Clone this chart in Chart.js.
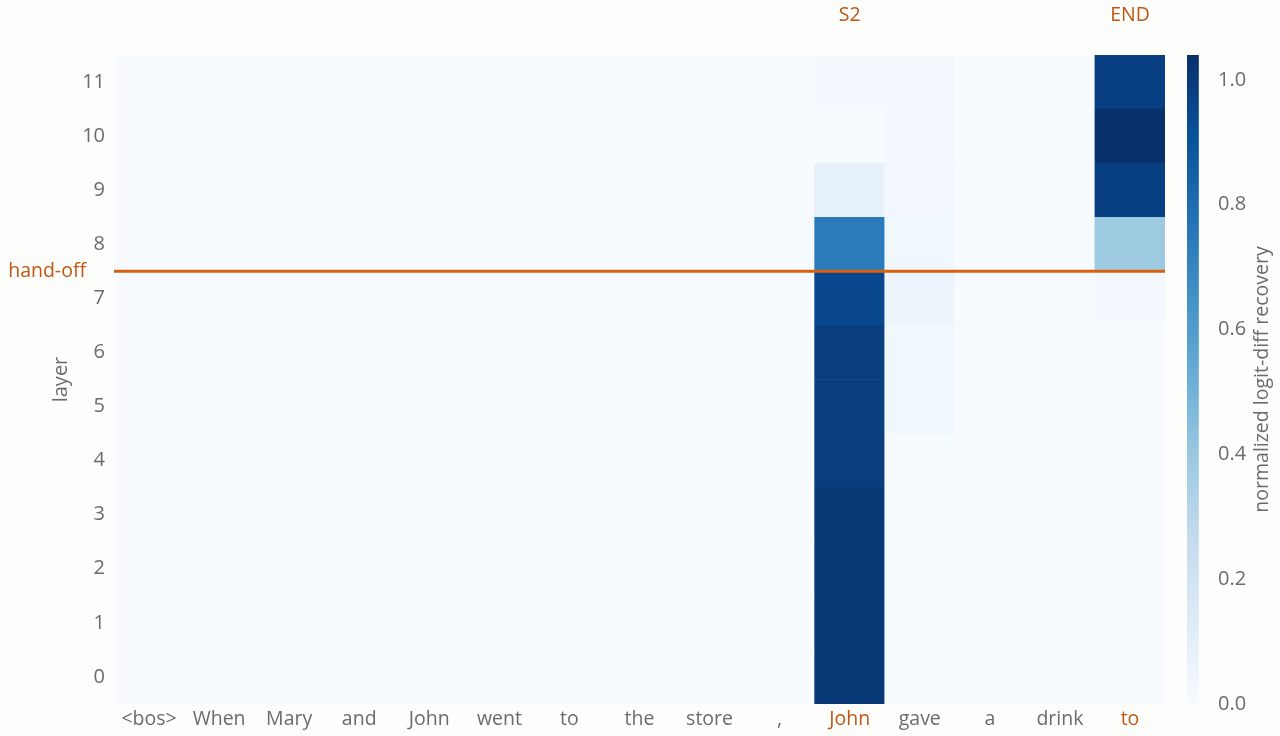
<!DOCTYPE html>
<html>
<head>
<meta charset="utf-8">
<script src="https://cdn.jsdelivr.net/npm/chart.js@4.4.1/dist/chart.umd.min.js"></script>
<style>
  html, body { margin: 0; padding: 0; background: #fdfdfb; }
  #wrap { position: relative; width: 1280px; height: 736px; }
  #heat { position: absolute; left: 0; top: 0; }
  #cbar { position: absolute; left: 1165px; top: 0; }
</style>
</head>
<body>
<div id="wrap">
  <canvas id="heat" width="1280" height="736"></canvas>
  <canvas id="cbar" width="115" height="736"></canvas>
</div>
<script>
// tokens of the prompt (x axis) and layers (y axis)
const tokens = ["<bos>", "When", "Mary", "and", "John", "went", "to", "the", "store", ",", "John", "gave", "a", "drink", "to"];
const topMarks = ["", "", "", "", "", "", "", "", "", "", "S2", "", "", "", "END"];
const highlighted = [10, 14]; // S2 and END positions
const layers = [0, 1, 2, 3, 4, 5, 6, 7, 8, 9, 10, 11];
const handoffLayer = 7.5;
const cbTicks = [0, 0.2, 0.4, 0.6, 0.8, 1.0];

// normalized logit-diff recovery, one row per layer (0..11), one value per token
const recovery = [
  [0, 0, 0, 0, 0, 0, 0, 0, 0, 0, 1.01, 0,     0, 0, 0],
  [0, 0, 0, 0, 0, 0, 0, 0, 0, 0, 1.01, 0,     0, 0, 0],
  [0, 0, 0, 0, 0, 0, 0, 0, 0, 0, 1.01, 0,     0, 0, 0],
  [0, 0, 0, 0, 0, 0, 0, 0, 0, 0, 1.01, 0,     0, 0, 0],
  [0, 0, 0, 0, 0, 0, 0, 0, 0, 0, 0.99, 0.01,  0, 0, 0],
  [0, 0, 0, 0, 0, 0, 0, 0, 0, 0, 0.99, 0.035, 0, 0, 0],
  [0, 0, 0, 0, 0, 0, 0, 0, 0, 0, 0.99, 0.035, 0, 0, 0],
  [0, 0, 0, 0, 0, 0, 0, 0, 0, 0, 0.95, 0.05,  0, 0, 0.02],
  [0, 0, 0, 0, 0, 0, 0, 0, 0, 0, 0.74, 0.035, 0, 0, 0.39],
  [0, 0, 0, 0, 0, 0, 0, 0, 0, 0, 0.09, 0.03,  0, 0, 0.98],
  [0, 0, 0, 0, 0, 0, 0, 0, 0, 0, 0.0,  0.02,  0, 0, 1.04],
  [0, 0, 0, 0, 0, 0, 0, 0, 0, 0, 0.02, 0.02,  0, 0, 0.98],
];

const zmax = Math.max(...recovery.flat());

const FONT = "'Open Sans', Lato, sans-serif";
const GREY = "#6b6b6b";
const ORANGE_TEXT = "#bf5710";
const ORANGE_LINE = "#d9600e";

// plotly "Blues"
const blueStops = [
  [0, [247, 251, 255]], [0.125, [222, 235, 247]], [0.25, [198, 219, 239]],
  [0.375, [158, 202, 225]], [0.5, [107, 174, 214]], [0.625, [66, 146, 198]],
  [0.75, [33, 113, 181]], [0.875, [8, 81, 156]], [1, [8, 48, 107]],
];
function blues(t) {
  t = Math.min(1, Math.max(0, t));
  for (let i = 1; i < blueStops.length; i++) {
    const [p1, c1] = blueStops[i];
    if (t <= p1) {
      const [p0, c0] = blueStops[i - 1];
      const f = (t - p0) / (p1 - p0);
      const c = c0.map((v, k) => Math.round(v + (c1[k] - v) * f));
      return `rgb(${c[0]}, ${c[1]}, ${c[2]})`;
    }
  }
  return "rgb(8, 48, 107)";
}

// one floating-bar dataset per layer, bars overlap instead of grouping
const heatDatasets = layers.map((l) => ({
  label: "layer " + l,
  data: tokens.map(() => [l - 0.5, l + 0.5]),
  backgroundColor: tokens.map((t, i) => blues(recovery[l][i] / zmax)),
  borderWidth: 0,
  grouped: false,
  barPercentage: 1,
  categoryPercentage: 1,
}));

const handoffPlugin = {
  id: "handoff",
  afterDatasetsDraw(chart) {
    const { ctx, chartArea, scales } = chart;
    const y = scales.y.getPixelForValue(handoffLayer);
    ctx.save();
    ctx.strokeStyle = ORANGE_LINE;
    ctx.lineWidth = 3;
    ctx.beginPath();
    ctx.moveTo(chartArea.left, y);
    ctx.lineTo(chartArea.right, y);
    ctx.stroke();
    ctx.fillStyle = ORANGE_TEXT;
    ctx.font = "19.5px " + FONT;
    ctx.textAlign = "right";
    ctx.textBaseline = "middle";
    ctx.fillText("hand-off", chartArea.left - 28, y);
    ctx.restore();
  },
};

new Chart(document.getElementById("heat").getContext("2d"), {
  type: "bar",
  data: { labels: tokens, datasets: heatDatasets },
  options: {
    responsive: false,
    animation: false,
    layout: { padding: { left: 46, right: 115, top: 0, bottom: 0 } },
    plugins: { legend: { display: false }, tooltip: { enabled: false } },
    scales: {
      x: {
        type: "category",
        offset: true,
        grid: { display: false, drawTicks: false },
        border: { display: false },
        ticks: {
          padding: 4,
          autoSkip: false,
          maxRotation: 0,
          font: { family: FONT, size: 19.5 },
          color: (c) => (highlighted.includes(c.index) ? ORANGE_TEXT : GREY),
        },
        afterFit: (s) => { s.height = 32; },
      },
      x2: {
        type: "category",
        position: "top",
        labels: topMarks,
        offset: true,
        grid: { display: false, drawTicks: false },
        border: { display: false },
        ticks: {
          padding: 28,
          autoSkip: false,
          maxRotation: 0,
          font: { family: FONT, size: 19.5 },
          color: ORANGE_TEXT,
        },
        afterFit: (s) => { s.height = 55; },
      },
      y: {
        type: "linear",
        min: -0.5,
        max: 11.5,
        grid: { display: false, drawTicks: false },
        border: { display: false },
        afterBuildTicks: (s) => { s.ticks = layers.map((v) => ({ value: v })); },
        ticks: {
          padding: 9,
          font: { family: FONT, size: 20 },
          color: GREY,
        },
        title: {
          display: true,
          text: "layer",
          color: GREY,
          font: { family: FONT, size: 20 },
          padding: { top: 3, bottom: 0 },
        },
        afterFit: (s) => { s.width = 68; },
      },
    },
  },
  plugins: [handoffPlugin],
});

// colour bar
const cbTitlePlugin = {
  id: "cbTitle",
  afterDraw(chart) {
    const { ctx, chartArea, scales } = chart;
    ctx.save();
    ctx.translate(scales.y.right - 18, (chartArea.top + chartArea.bottom) / 2);
    ctx.rotate(-Math.PI / 2);
    ctx.fillStyle = GREY;
    ctx.font = "19.5px " + FONT;
    ctx.textAlign = "center";
    ctx.textBaseline = "middle";
    ctx.fillText("normalized logit-diff recovery", 0, 0);
    ctx.restore();
  },
};

new Chart(document.getElementById("cbar").getContext("2d"), {
  type: "bar",
  data: {
    labels: ["scale"],
    datasets: [{
      data: [[0, zmax]],
      borderWidth: 0,
      barPercentage: 1,
      categoryPercentage: 1,
      backgroundColor: (c) => {
        const { chart } = c;
        if (!chart.chartArea) return blues(0);
        const ys = chart.scales.y;
        const g = chart.ctx.createLinearGradient(0, ys.getPixelForValue(0), 0, ys.getPixelForValue(zmax));
        blueStops.forEach(([p, col]) => g.addColorStop(p, `rgb(${col.join(",")})`));
        return g;
      },
    }],
  },
  options: {
    responsive: false,
    animation: false,
    layout: { padding: { left: 22, right: 0, top: 55, bottom: 32 } },
    plugins: { legend: { display: false }, tooltip: { enabled: false } },
    scales: {
      x: { display: false, offset: false },
      y: {
        position: "right",
        min: 0,
        max: zmax,
        grid: { display: false, drawTicks: false },
        border: { display: false },
        afterBuildTicks: (s) => { s.ticks = cbTicks.map((v) => ({ value: v })); },
        ticks: {
          padding: 8,
          font: { family: FONT, size: 20 },
          color: GREY,
          callback: (v) => Number(v).toFixed(1),
        },
        afterFit: (s) => { s.width = 70; },
      },
    },
  },
  plugins: [cbTitlePlugin],
});
</script>
</body>
</html>
